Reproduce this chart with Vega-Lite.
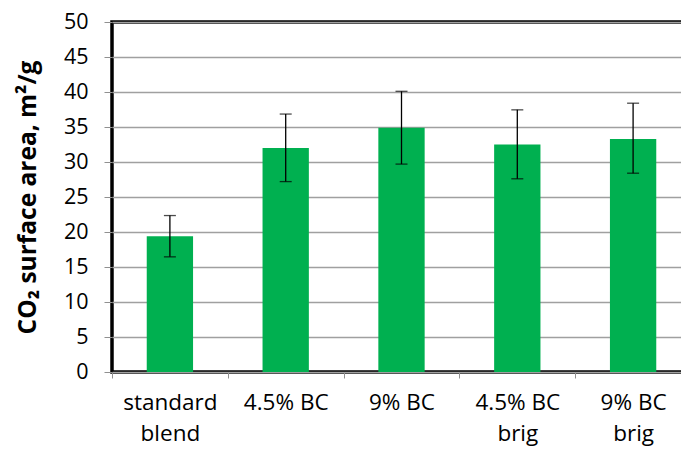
{
  "$schema": "https://vega.github.io/schema/vega-lite/v6.json",
  "autosize": {"type": "none"},
  "padding": {"left": 112, "top": 22, "right": 0, "bottom": 80},
  "width": 579,
  "height": 350,
  "background": "white",
  "config": {
    "view": {"stroke": "black", "strokeWidth": 3.5},
    "font": "Open Sans",
    "axisY": {
      "titleFontSize": 24.5,
      "titleFontWeight": "bold",
      "titleColor": "black",
      "titleX": -84,
      "titleY": 175,
      "titleBaseline": "middle",
      "titleAngle": -90,
      "tickCount": 10,
      "labelOverlap": false,
      "labelFontSize": 21.5,
      "labelColor": "black",
      "labelPadding": 16,
      "tickColor": "#909090",
      "tickSize": 8,
      "domain": false,
      "grid": true,
      "gridColor": "#a0a0a0",
      "gridWidth": 1.5
    }
  },
  "data": {
    "values": [
      {"sample": "standard|blend", "mean": 19.4, "lo": 16.45, "hi": 22.35},
      {"sample": "4.5% BC", "mean": 32.0, "lo": 27.2, "hi": 36.85},
      {"sample": "9% BC", "mean": 34.9, "lo": 29.7, "hi": 40.1},
      {"sample": "4.5% BC|brig", "mean": 32.5, "lo": 27.6, "hi": 37.45},
      {"sample": "9% BC|brig", "mean": 33.3, "lo": 28.4, "hi": 38.4}
    ]
  },
  "encoding": {
    "x": {
      "field": "sample",
      "type": "nominal",
      "sort": null,
      "scale": {"paddingInner": 0, "paddingOuter": 0},
      "axis": {
        "title": null,
        "labelAngle": 0,
        "labelExpr": "split(datum.label, '|')",
        "labelFontSize": 22.5,
        "labelColor": "black",
        "labelLineHeight": 31,
        "labelPadding": 13,
        "labelBaseline": "top",
        "tickBand": "extent",
        "tickColor": "#909090",
        "tickSize": 6,
        "domain": false,
        "grid": false
      }
    }
  },
  "layer": [
    {
      "mark": {"type": "bar", "color": "#00B050", "width": {"band": 0.4}},
      "encoding": {
        "y": {
          "field": "mean",
          "type": "quantitative",
          "scale": {"domain": [0, 50]},
          "axis": {"title": "CO₂ surface area, m²/g"}
        }
      }
    },
    {
      "mark": {"type": "rule", "color": "black", "strokeWidth": 1.3},
      "encoding": {
        "y": {"field": "lo", "type": "quantitative", "axis": {"title": "CO₂ surface area, m²/g"}},
        "y2": {"field": "hi"}
      }
    },
    {
      "mark": {"type": "tick", "color": "black", "size": 12, "thickness": 1.3, "orient": "horizontal"},
      "encoding": {"y": {"field": "lo", "type": "quantitative", "axis": {"title": "CO₂ surface area, m²/g"}}}
    },
    {
      "mark": {"type": "tick", "color": "black", "size": 12, "thickness": 1.3, "orient": "horizontal"},
      "encoding": {"y": {"field": "hi", "type": "quantitative", "axis": {"title": "CO₂ surface area, m²/g"}}}
    }
  ]
}
